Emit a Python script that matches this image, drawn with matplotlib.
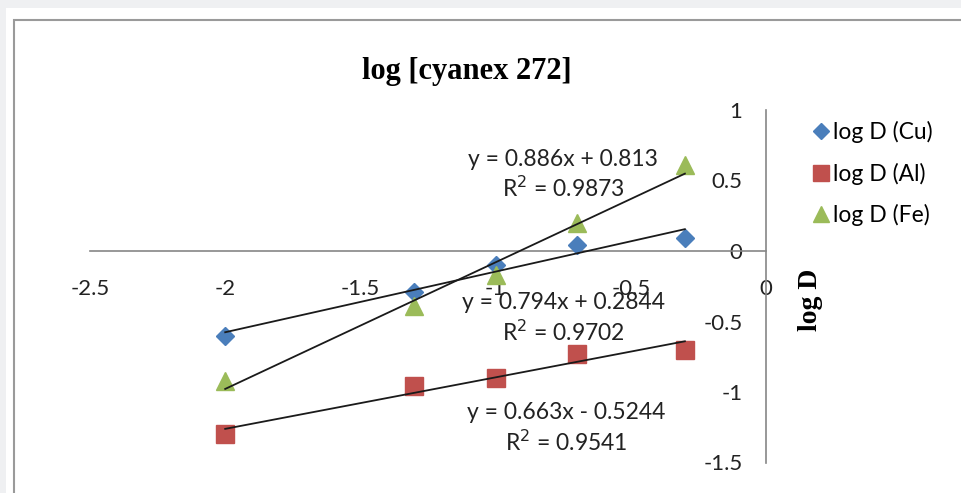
import matplotlib.pyplot as plt
import numpy as np
from matplotlib.patches import Rectangle

# data
conc = [-2.0, -1.3, -1.0, -0.7, -0.3]
cu = [-0.60, -0.29, -0.10, 0.04, 0.09]
al = [-1.30, -0.96, -0.90, -0.73, -0.70]
fe = [-0.92, -0.39, -0.17, 0.20, 0.61]

names = ['log D (Cu)', 'log D (Al)', 'log D (Fe)']
colors = ['#4a7ebb', '#c0504d', '#9bbb59']
markers = ['D', 's', '^']
sizes = [9.3, 13, 13]

# trendline labels as printed on the chart
eq_text = ['y = 0.794x + 0.2844\nR$^2$ = 0.9702',
           'y = 0.663x - 0.5244\nR$^2$ = 0.9541',
           'y = 0.886x + 0.813\nR$^2$ = 0.9873']
eq_pos = [(-0.75, -0.48), (-0.74, -1.26), (-0.75, 0.54)]

x_ticks = [-2.5, -2, -1.5, -1, -0.5, 0]
y_ticks = [-1.5, -1, -0.5, 0, 0.5, 1]

W, H = 962, 493
fig = plt.figure(figsize=(W / 100, H / 100), dpi=100, facecolor='#eff0f2')

# white chart area + grey border
fig.patches.append(Rectangle((6 / W, 0), 1, 1 - 8 / H, transform=fig.transFigure,
                             facecolor='white', edgecolor='none', zorder=-2))
fig.patches.append(Rectangle((14.5 / W, -0.1), 1, 1.1 - 20 / H, transform=fig.transFigure,
                             facecolor='none', edgecolor='#9a9a9a', linewidth=1.5, zorder=-1))

ax = fig.add_axes([90 / W, 1 - 462.5 / H, (766 - 90) / W, (462.5 - 110) / H])
ax.set_facecolor('none')
ax.set_xlim(-2.5, 0)
ax.set_ylim(-1.5, 1)

ax.spines['right'].set_color('none')
ax.spines['top'].set_color('none')
ax.spines['bottom'].set_position(('data', 0))
ax.spines['left'].set_position(('data', 0))
for s in ['bottom', 'left']:
    ax.spines[s].set_color('#868686')
    ax.spines[s].set_linewidth(1.2)

ax.set_xticks(x_ticks)
ax.set_xticklabels([f'{t:g}' for t in x_ticks])
ax.set_yticks(y_ticks)
ax.set_yticklabels([f'{t:g}' for t in y_ticks])
ax.tick_params(axis='x', length=0, pad=20, labelsize=16, labelcolor='#222222')
ax.tick_params(axis='y', length=0, pad=17, labelsize=16, labelcolor='#222222')
for lab in ax.get_xticklabels() + ax.get_yticklabels():
    lab.set_family('Lato')

handles = []
for ys, name, c, m, ms in zip([cu, al, fe], names, colors, markers, sizes):
    h, = ax.plot(conc, ys, linestyle='none', marker=m, markersize=ms,
                 color=c, label=name, zorder=3, clip_on=False)
    handles.append(h)
    k, b = np.polyfit(conc, ys, 1)
    xs = np.array([min(conc), max(conc)])
    ax.plot(xs, k * xs + b, color='#1a1a1a', linewidth=1.3, zorder=4, clip_on=False)

for txt, (tx, ty) in zip(eq_text, eq_pos):
    ax.text(tx, ty, txt, ha='center', va='center', fontsize=16.5, family='Lato',
            color='#222222', linespacing=1.3, zorder=5)

fig.text(467 / W, 1 - 72 / H, 'log [cyanex 272]', ha='center', va='center',
         fontsize=22, fontweight='bold', family='Liberation Serif')
fig.text(811 / W, 1 - 300 / H, 'log D', ha='center', va='center', rotation=90,
         fontsize=20, fontweight='bold', family='Liberation Serif')

fig.legend(handles=handles, loc='upper left', bbox_to_anchor=(814 / W, 1 - 121 / H),
           frameon=False, handlelength=0.6, handletextpad=0.25, labelspacing=0.85,
           borderaxespad=0, borderpad=0, markerscale=0.85,
           prop={'family': 'Lato', 'size': 16.5})

fig.savefig('out.png', dpi=100)
